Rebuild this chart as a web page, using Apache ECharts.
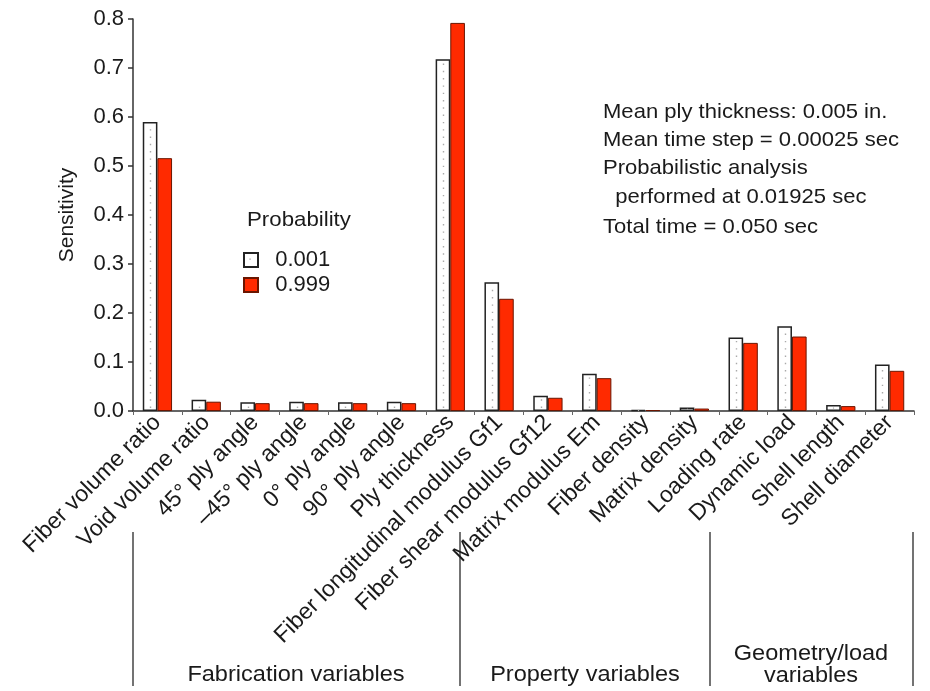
<!DOCTYPE html>
<html>
<head>
<meta charset="utf-8">
<script src="https://cdn.jsdelivr.net/npm/echarts@6/dist/echarts.min.js"></script>
<style>
  html, body { margin: 0; padding: 0; background: #fff; }
  #chart { width: 930px; height: 691px; }
</style>
</head>
<body>
<div id="chart"></div>
<script>
// Sensitivity of the response to each random variable, at two probability levels
const categories = [
  'Fiber volume ratio', 'Void volume ratio', '45° ply angle', '–45° ply angle',
  '0° ply angle', '90° ply angle', 'Ply thickness', 'Fiber longitudinal modulus Gf1',
  'Fiber shear modulus Gf12', 'Matrix modulus Em', 'Fiber density', 'Matrix density',
  'Loading rate', 'Dynamic load', 'Shell length', 'Shell diameter'
];
const seriesNames = ['0.001', '0.999'];
const p001 = [0.590, 0.023, 0.018, 0.019, 0.018, 0.019, 0.718, 0.263, 0.031, 0.076, 0.002, 0.007, 0.150, 0.173, 0.012, 0.095];
const p999 = [0.516, 0.019, 0.016, 0.016, 0.016, 0.016, 0.792, 0.229, 0.027, 0.067, 0.002, 0.005, 0.139, 0.152, 0.010, 0.082];
const yTicks = { min: 0, max: 0.8, interval: 0.1 };
const notes = [
  'Mean ply thickness: 0.005 in.',
  'Mean time step = 0.00025 sec',
  'Probabilistic analysis',
  '  performed at 0.01925 sec',
  'Total time = 0.050 sec'
];
const groups = ['Fabrication variables', 'Property variables', 'Geometry/load\nvariables'];

const FONT = '"Liberation Sans", Arial, Helvetica, sans-serif';
const INK = '#1a1a1a';
const BAR_FRACTION = 0.3; // each bar's share of a category slot

const chart = echarts.init(document.getElementById('chart'), null, { renderer: 'canvas' });

const noteY = [112.5, 140.5, 168.5, 197, 227.5];
const graphics = [];
notes.forEach((t, i) => {
  graphics.push({ type: 'text', x: 603, y: noteY[i], scaleX: 1.05,
    style: { text: t, font: '21px ' + FONT, fill: INK, textVerticalAlign: 'middle' } });
});
graphics.push({ type: 'text', x: 247, y: 220, scaleX: 1.06,
  style: { text: 'Probability', font: '21px ' + FONT, fill: INK, textVerticalAlign: 'middle' } });
// group separators below the category labels
[133, 460, 710, 913].forEach(x => {
  graphics.push({ type: 'line', shape: { x1: x, y1: 532, x2: x, y2: 686 },
    style: { stroke: '#444', lineWidth: 1.5 } });
});
const groupPos = [[296, 675], [585, 675], [811, 665]];
groups.forEach((g, i) => {
  graphics.push({ type: 'text', x: groupPos[i][0], y: groupPos[i][1], scaleX: 1.07,
    style: { text: g, font: '22px ' + FONT, fill: INK, textAlign: 'center',
      textVerticalAlign: 'middle', lineHeight: 22 } });
});
// center mark in the white legend swatch
graphics.push({ type: 'rect', shape: { x: 249.4, y: 258.4, width: 1.3, height: 1.3 },
  style: { fill: '#999' }, z: 200 });

chart.setOption({
  animation: false,
  backgroundColor: '#fff',
  textStyle: { fontFamily: FONT },
  grid: { left: 133, right: 16, top: 19, bottom: 280, containLabel: false },
  legend: {
    data: seriesNames,
    orient: 'vertical',
    left: 243, top: 249,
    padding: 0,
    itemWidth: 14, itemHeight: 14, itemGap: 3,
    icon: 'rect',
    formatter: name => '  ' + name,
    textStyle: { fontSize: 22, color: INK, fontFamily: FONT },
    selectedMode: false
  },
  xAxis: {
    type: 'category',
    data: categories,
    axisLine: { lineStyle: { color: '#333', width: 1.5 } },
    axisTick: { show: true, length: 4, lineStyle: { color: '#666' } },
    axisLabel: { rotate: 45, fontSize: 23, color: INK, margin: 8, interval: 0, fontFamily: FONT }
  },
  yAxis: {
    type: 'value',
    min: yTicks.min, max: yTicks.max, interval: yTicks.interval,
    name: 'Sensitivity',
    nameLocation: 'middle',
    nameGap: 55,
    nameRotate: 90,
    nameTextStyle: { fontSize: 21, color: INK, fontFamily: FONT },
    splitLine: { show: false },
    axisLine: { show: true, lineStyle: { color: '#333', width: 1.5 } },
    axisTick: { show: true, length: 5, lineStyle: { color: '#333', width: 1.5 } },
    axisLabel: { fontSize: 22, color: INK, margin: 9, fontFamily: FONT,
      formatter: v => v.toFixed(1) }
  },
  series: [
    {
      name: seriesNames[0], type: 'bar', data: p001,
      barCategoryGap: '40%', barGap: '0%',
      itemStyle: { color: '#ffffff', borderColor: '#222', borderWidth: 1.5 }
    },
    {
      name: seriesNames[1], type: 'bar', data: p999,
      barCategoryGap: '40%', barGap: '0%',
      itemStyle: { color: '#ff2a00', borderColor: '#6a1500', borderWidth: 1 }
    },
    {
      // dotted centre line inside the white bars
      type: 'custom', silent: true, z: 5,
      data: p001.map((v, i) => [i, v]),
      encode: { x: 0, y: 1 },
      renderItem: function (params, api) {
        const i = api.value(0), v = api.value(1);
        const top = api.coord([i, v]);
        const base = api.coord([i, 0]);
        const bw = api.size([1, 0])[0] * BAR_FRACTION;
        const x = Math.round(top[0] - bw / 2) + 0.5;
        const y1 = base[1] - 3, y2 = top[1] + 3;
        if (y1 - y2 < 2) {
          return { type: 'rect', shape: { x: x - 0.6, y: (base[1] + top[1]) / 2 - 0.6, width: 1.2, height: 1.2 },
            style: { fill: '#aaa' } };
        }
        return {
          type: 'line',
          shape: { x1: x, y1: y1, x2: x, y2: y2 },
          style: { stroke: '#aaa', lineWidth: 1.4, lineDash: [1.4, 5.9] }
        };
      }
    }
  ],
  graphic: graphics
});
</script>
</body>
</html>
